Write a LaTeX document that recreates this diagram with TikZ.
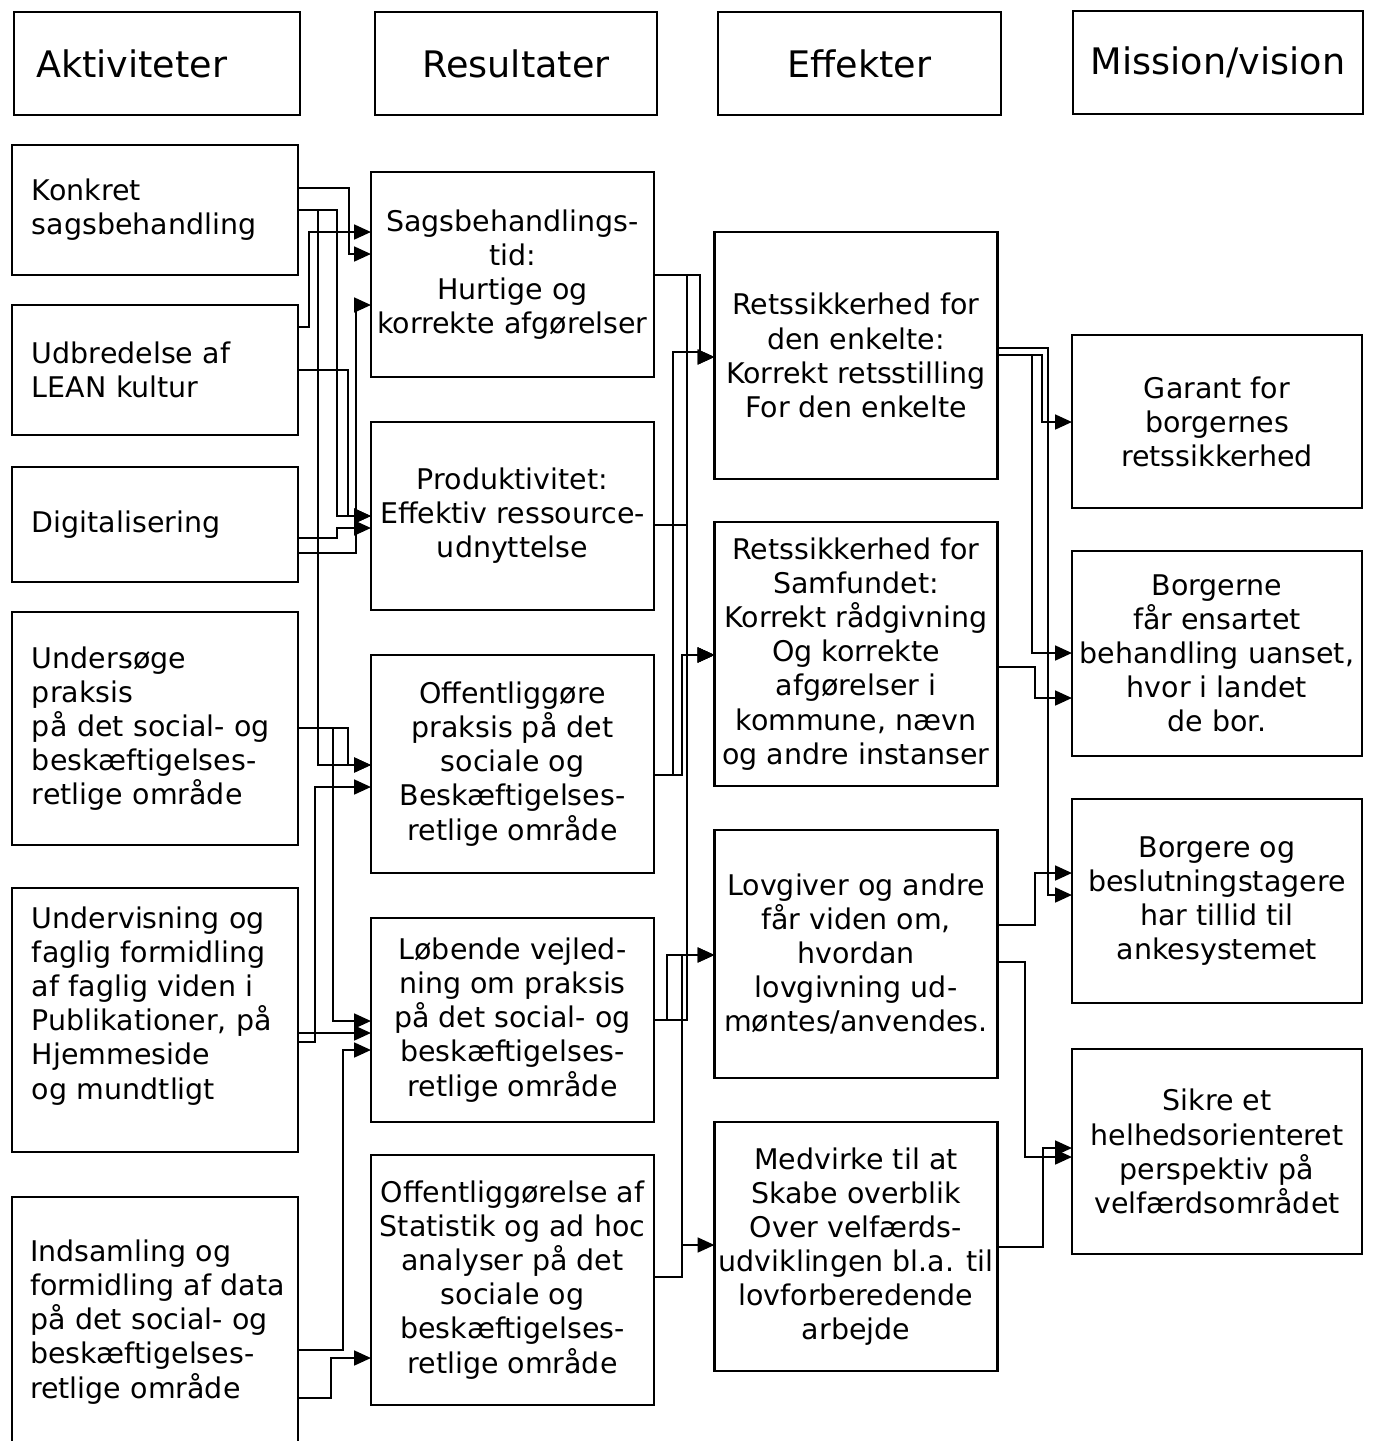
\documentclass[tikz,border=0pt]{standalone}
\usepackage{fontspec}
\setmainfont{DejaVu Sans}
\usetikzlibrary{positioning}
\usetikzlibrary{arrows.meta}
\tikzset{
  headbox/.style= {
    rectangle,
    draw,
    line width = 0.75pt,
    outer sep = 0pt,
    minimum width = 28.3mm,
    minimum height = 10.3mm,
    inner xsep = 0mm,
    font = \fontsize{10.4}{12}\selectfont
  },
  actbox/.style= {
    rectangle,
    draw,
    line width = 0.75pt,
    outer sep = 0pt,
    minimum width = 28.6mm,
    inner xsep = 2mm,
    text width = 24.6mm,
    align = left,
    font = \fontsize{8.1}{9.7}\selectfont
  },
  outbox/.style= {
    rectangle,
    draw,
    line width = 0.75pt,
    outer sep = 0pt,
    minimum width = #1,
    inner xsep = 0mm,
    align = center,
    font = \fontsize{8.1}{9.7}\selectfont
  },
  outbox/.default = 28.3mm,
  link/.style= {
    line width = 0.65pt,
    -{Triangle[length=4.8pt,width=4.2pt]}
  }
}

\begin{document}
\begin{tikzpicture}[x=0.1mm,y=-0.1mm]
  \useasboundingbox (0,0) rectangle (1374,1441);

  % column heads
  \node[headbox, text width=24.2mm, inner xsep=2.2mm, align=left] (hakt) at (157,63.5) {Aktiviteter};
  \node[headbox, minimum width=28.2mm] (hres) at (516,63.5) {Resultater};
  \node[headbox] (heff) at (859.5,63.5) {Effekter};
  \node[headbox, minimum width=29mm] (hmis) at (1218,62.5) {Mission/vision};

  % aktiviteter
  \node[actbox, minimum height=13mm] (a1) at (155,210) {Konkret\\sagsbehandling};
  \node[actbox, minimum height=13mm, below=3mm of a1] (a2) {Udbredelse af\\LEAN kultur};
  \node[actbox, minimum height=11.5mm, below=3.2mm of a2] (a3) {Digitalisering};
  \node[actbox, minimum height=23.3mm, below=3mm of a3] (a4) {Undersøge\\praksis\\på det social- og\\beskæftigelses-\\retlige område};
  \node[actbox, minimum height=26.4mm, below=4.3mm of a4] (a5) {Undervisning og\\faglig formidling\\af faglig viden i\\Publikationer, på\\Hjemmeside\\og mundtligt\\\mbox{}};
  \node[actbox, minimum height=25mm, below=4.5mm of a5, inner xsep=1.8mm, text width=25mm] (a6) {Indsamling og\\formidling~af~data\\på det social- og\\beskæftigelses-\\retlige område};

  % resultater
  \node[outbox, minimum height=20.5mm] (r1) at (512.5,274.5) {Sagsbehandlings-\\tid:\\Hurtige og\\korrekte afgørelser};
  \node[outbox, minimum height=18.8mm, below=4.5mm of r1] (r2) {Produktivitet:\\Effektiv ressource-\\udnyttelse};
  \node[outbox, minimum height=21.8mm, below=4.5mm of r2] (r3) {Offentliggøre\\praksis på det\\sociale og\\Beskæftigelses-\\retlige område};
  \node[outbox, minimum height=20.4mm, below=4.5mm of r3] (r4) {Løbende vejled-\\ning om praksis\\på det social- og\\beskæftigelses-\\retlige område};
  \node[outbox, minimum height=25mm, below=3.3mm of r4] (r5) {Offentliggørelse af\\Statistik og ad hoc\\analyser på det\\sociale og\\beskæftigelses-\\retlige område};

  % effekter
  \node[outbox, minimum height=24.7mm] (e1) at (856,355.5) {Retssikkerhed for\\den enkelte:\\Korrekt retsstilling\\For den enkelte};
  \node[outbox, minimum height=26.4mm, below=4.3mm of e1] (e2) {Retssikkerhed for\\Samfundet:\\Korrekt rådgivning\\Og korrekte\\afgørelser i\\kommune, nævn\\og andre instanser};
  \node[outbox, minimum height=24.8mm, below=4.4mm of e2] (e3) {Lovgiver og andre\\får viden om,\\hvordan\\lovgivning ud-\\møntes/anvendes.};
  \node[outbox, minimum height=24.9mm, below=4.4mm of e3] (e4) {Medvirke til at\\Skabe overblik\\Over velfærds-\\udviklingen bl.a. til\\lovforberedende\\arbejde};

  % mission/vision
  \node[outbox=29mm, minimum height=17.3mm] (m1) at (1217,421.5) {Garant for\\borgernes\\retssikkerhed};
  \node[outbox=29mm, minimum height=20.5mm, below=4.3mm of m1] (m2) {Borgerne\\får ensartet\\behandling uanset,\\hvor i landet\\de bor.};
  \node[outbox=29mm, minimum height=20.4mm, below=4.3mm of m2] (m3) {Borgere og\\beslutningstagere\\har tillid til\\ankesystemet};
  \node[outbox=29mm, minimum height=20.5mm, below=4.6mm of m3] (m4) {Sikre et\\helhedsorienteret\\perspektiv på\\velfærdsområdet};

  % aktiviteter -> resultater
  \draw[link] (a1.east |- 0,188) -| (349,254) -- (r1.west |- 0,254);
  \draw[link] (a2.east |- 0,327) -| (309,232) -- (r1.west |- 0,232);
  \draw[link] (a3.east |- 0,553) -| (356,305) -- (r1.west |- 0,305);
  \draw[link] (a1.east |- 0,210) -| (337,516) -- (r2.west |- 0,516);
  \draw[link] (a2.east |- 0,370) -| (348,516) -- (r2.west |- 0,516);
  \draw[link] (a3.east |- 0,538) -| (337,528) -- (r2.west |- 0,528);
  \draw[link] (a1.east |- 0,210) -| (318,765) -- (r3.west |- 0,765);
  \draw[link] (a4.east |- 0,728) -| (348,765) -- (r3.west |- 0,765);
  \draw[link] (a5.east |- 0,1042) -| (315,787) -- (r3.west |- 0,787);
  \draw[link] (a4.east |- 0,728) -| (333,1021) -- (r4.west |- 0,1021);
  \draw[link] (a5.east |- 0,1033) -- (r4.west |- 0,1033);
  \draw[link] (a6.east |- 0,1350) -| (343,1050) -- (r4.west |- 0,1050);
  \draw[link] (a6.east |- 0,1398) -| (331,1358) -- (r5.west |- 0,1358);

  % resultater -> effekter
  \draw[link] (r1.east |- 0,275) -| (700,357) -- (e1.west |- 0,357);
  \draw[link] (r3.east |- 0,775) -| (673,352) -| (700,357) -- (e1.west |- 0,357);
  \draw[link] (r1.east |- 0,275) -| (687,655) -- (e2.west |- 0,655);
  \draw[link] (r2.east |- 0,525) -| (687,655) -- (e2.west |- 0,655);
  \draw[link] (r3.east |- 0,775) -| (682,655) -- (e2.west |- 0,655);
  \draw[link] (r4.east |- 0,1020) -| (687,655) -- (e2.west |- 0,655);
  \draw[link] (r4.east |- 0,1020) -| (667,955) -- (e3.west |- 0,955);
  \draw[link] (r5.east |- 0,1277) -| (682,955) -- (e3.west |- 0,955);
  \draw[link] (r5.east |- 0,1277) -| (682,1245) -- (e4.west |- 0,1245);

  % effekter -> mission/vision
  \draw[link] (e1.east |- 0,355) -| (1042,422) -- (m1.west |- 0,422);
  \draw[link] (e1.east |- 0,355) -| (1032,653) -- (m2.west |- 0,653);
  \draw[link] (e1.east |- 0,348) -| (1048,895) -- (m3.west |- 0,895);
  \draw[link] (e2.east |- 0,667) -| (1035,698) -- (m2.west |- 0,698);
  \draw[link] (e3.east |- 0,925) -| (1035,873) -- (m3.west |- 0,873);
  \draw[link] (e3.east |- 0,962) -| (1025,1157) -- (m4.west |- 0,1157);
  \draw[link] (e4.east |- 0,1247) -| (1043,1148) -- (m4.west |- 0,1148);

\end{tikzpicture}
\end{document}
